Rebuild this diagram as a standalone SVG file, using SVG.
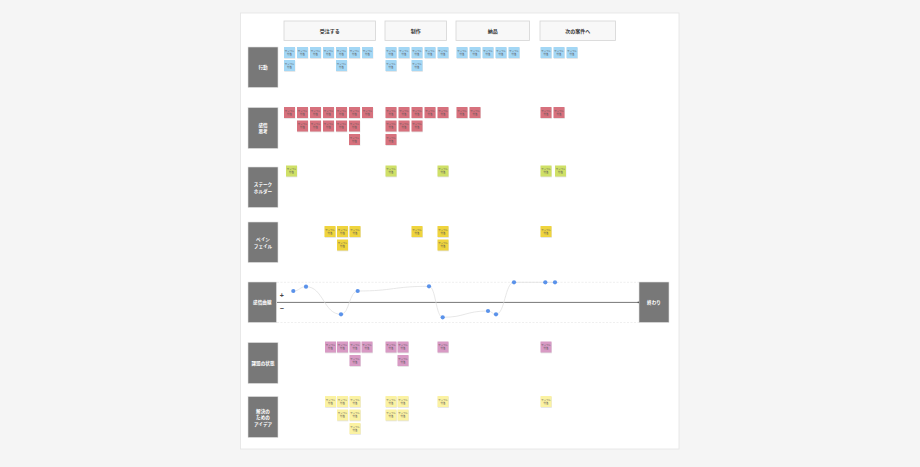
<svg xmlns="http://www.w3.org/2000/svg" width="920" height="467" viewBox="0 0 920 467">
<style>
.lane rect{fill:#787878;stroke:#e2e2e2;stroke-width:0.6}
.lane text,.end text{fill:#fff;font-family:"Noto Sans CJK JP","Noto Sans",sans-serif;font-size:4.6px;font-weight:bold;text-anchor:middle;dominant-baseline:central}
.hd rect{fill:#f8f8f8;stroke:#d4d4d4;stroke-width:0.8}
.hd text{fill:#333;font-family:"Noto Sans CJK JP","Noto Sans",sans-serif;font-size:5px;font-weight:bold;text-anchor:middle;dominant-baseline:central}
.st text{fill:#555;font-family:"Noto Sans CJK JP",sans-serif;font-size:2.4px;text-anchor:middle}
.b{fill:#a3d7f5}
.r{fill:#d7717d}
.l{fill:#cfe067}
.y{fill:#efd43d}
.p{fill:#d89ac4}
.ly{fill:#fbf2a2}
.dot{fill:#5a92ea}
.sign{fill:#444;font-family:"Liberation Sans",sans-serif;font-size:7px;font-weight:bold;text-anchor:middle;dominant-baseline:central}
</style>
<defs>
<g id="stk"><rect x="0.3" y="0.8" width="11" height="11" fill="#000" opacity="0.12"/><rect width="11" height="11"/></g>
</defs>
<rect width="920" height="467" fill="#f5f5f5"/>
<rect x="240.5" y="13" width="438.5" height="436" fill="#fff" stroke="#e4e4e4" stroke-width="0.8"/>

<g id="headers">
<g id="h1" class="hd"><rect x="284" y="21" width="91.5" height="19.5"/><text x="329.7" y="30.8">受注する</text></g>
<g id="h2" class="hd"><rect x="385" y="21" width="61.5" height="19.5"/><text x="415.7" y="30.8">制作</text></g>
<g id="h3" class="hd"><rect x="456" y="21" width="73.5" height="19.5"/><text x="492.7" y="30.8">納品</text></g>
<g id="h4" class="hd"><rect x="540" y="21" width="75.5" height="19.5"/><text x="577.7" y="30.8">次の案件へ</text></g>
</g>

<g id="lanes">
<g id="lane1" class="lane"><rect x="248" y="47" width="30" height="40.5"/><text x="263" y="67.2">行動</text></g>
<g id="lane2" class="lane"><rect x="248" y="107.5" width="30" height="41"/><text x="263" y="124.8">感情</text><text x="263" y="131.3">思考</text></g>
<g id="lane3" class="lane"><rect x="248" y="167" width="30" height="40.5"/><text x="263" y="184">ステーク</text><text x="263" y="190.5">ホルダー</text></g>
<g id="lane4" class="lane"><rect x="248" y="222" width="30" height="40.5"/><text x="263" y="239">ペイン</text><text x="263" y="245.5">フェイル</text></g>
<g id="lane5" class="lane"><rect x="248" y="282" width="28.5" height="40.5"/><text x="262.3" y="302.3">感情曲線</text></g>
<g id="lane6" class="lane"><rect x="248" y="342.5" width="30" height="41"/><text x="263" y="363">課題の状態</text></g>
<g id="lane7" class="lane"><rect x="248" y="396.5" width="30" height="41"/><text x="263" y="410.5">解決の</text><text x="263" y="417">ための</text><text x="263" y="423.5">アイデア</text></g>
<g id="end" class="end"><rect x="639" y="282" width="30" height="40.5" fill="#787878" stroke="#e2e2e2" stroke-width="0.6"/><text x="654" y="302.3">終わり</text></g>
</g>

<g id="chart">
<line x1="277" y1="282.3" x2="639" y2="282.3" stroke="#e4e4e4" stroke-width="0.6" stroke-dasharray="2 1.5"/>
<line x1="277" y1="322.5" x2="639" y2="322.5" stroke="#e4e4e4" stroke-width="0.6" stroke-dasharray="2 1.5"/>
<line x1="277" y1="302.4" x2="638.5" y2="302.4" stroke="#777" stroke-width="1"/>
<circle cx="638.3" cy="302.4" r="0.8" fill="#555"/>
<text class="sign" x="281.7" y="295.8">+</text>
<text class="sign" x="281.7" y="308.3">−</text>
</g>

<g id="connectors">
<path d="M293.3,291 C299.6,291 299.6,286.7 306,286.7 C323.5,286.7 323.5,314.3 341,314.3 C349.3,314.3 349.3,291 357.7,291 C393.3,291 393.3,286.3 429,286.3 C435.8,286.3 435.8,317.3 442.7,317.3 C465.3,317.3 465.3,311 488,311 C492,311 492,314.3 496,314.3 C505,314.3 505,282.3 514,282.3 L555,282.3" fill="none" stroke="#dcdcdc" stroke-width="0.7"/>
</g>

<g id="points">
<circle class="dot" cx="293.3" cy="291" r="2.1"/>
<circle class="dot" cx="306" cy="286.7" r="2.1"/>
<circle class="dot" cx="341" cy="314.3" r="2.1"/>
<circle class="dot" cx="357.7" cy="291" r="2.1"/>
<circle class="dot" cx="429" cy="286.3" r="2.1"/>
<circle class="dot" cx="442.7" cy="317.3" r="2.1"/>
<circle class="dot" cx="488" cy="311" r="2.1"/>
<circle class="dot" cx="496" cy="314.3" r="2.1"/>
<circle class="dot" cx="514" cy="282.3" r="2.1"/>
<circle class="dot" cx="545.3" cy="282.3" r="2.1"/>
<circle class="dot" cx="555" cy="282.3" r="2.1"/>
</g>

<g id="stickies-action">
<g id="a1" class="st b" transform="translate(284,47)"><use href="#stk"/><text x="5.5" y="4.6">サンプル</text><text x="5.5" y="7.8">付箋</text></g>
<g id="a2" class="st b" transform="translate(297,47)"><use href="#stk"/><text x="5.5" y="4.6">サンプル</text><text x="5.5" y="7.8">付箋</text></g>
<g id="a3" class="st b" transform="translate(310,47)"><use href="#stk"/><text x="5.5" y="4.6">サンプル</text><text x="5.5" y="7.8">付箋</text></g>
<g id="a4" class="st b" transform="translate(323,47)"><use href="#stk"/><text x="5.5" y="4.6">サンプル</text><text x="5.5" y="7.8">付箋</text></g>
<g id="a5" class="st b" transform="translate(336,47)"><use href="#stk"/><text x="5.5" y="4.6">サンプル</text><text x="5.5" y="7.8">付箋</text></g>
<g id="a6" class="st b" transform="translate(349,47)"><use href="#stk"/><text x="5.5" y="4.6">サンプル</text><text x="5.5" y="7.8">付箋</text></g>
<g id="a7" class="st b" transform="translate(362,47)"><use href="#stk"/><text x="5.5" y="4.6">サンプル</text><text x="5.5" y="7.8">付箋</text></g>
<g id="a8" class="st b" transform="translate(385.5,47)"><use href="#stk"/><text x="5.5" y="4.6">サンプル</text><text x="5.5" y="7.8">付箋</text></g>
<g id="a9" class="st b" transform="translate(398.5,47)"><use href="#stk"/><text x="5.5" y="4.6">サンプル</text><text x="5.5" y="7.8">付箋</text></g>
<g id="a10" class="st b" transform="translate(411.5,47)"><use href="#stk"/><text x="5.5" y="4.6">サンプル</text><text x="5.5" y="7.8">付箋</text></g>
<g id="a11" class="st b" transform="translate(424.5,47)"><use href="#stk"/><text x="5.5" y="4.6">サンプル</text><text x="5.5" y="7.8">付箋</text></g>
<g id="a12" class="st b" transform="translate(437.5,47)"><use href="#stk"/><text x="5.5" y="4.6">サンプル</text><text x="5.5" y="7.8">付箋</text></g>
<g id="a13" class="st b" transform="translate(456.5,47)"><use href="#stk"/><text x="5.5" y="4.6">サンプル</text><text x="5.5" y="7.8">付箋</text></g>
<g id="a14" class="st b" transform="translate(469.5,47)"><use href="#stk"/><text x="5.5" y="4.6">サンプル</text><text x="5.5" y="7.8">付箋</text></g>
<g id="a15" class="st b" transform="translate(482.5,47)"><use href="#stk"/><text x="5.5" y="4.6">サンプル</text><text x="5.5" y="7.8">付箋</text></g>
<g id="a16" class="st b" transform="translate(495.5,47)"><use href="#stk"/><text x="5.5" y="4.6">サンプル</text><text x="5.5" y="7.8">付箋</text></g>
<g id="a17" class="st b" transform="translate(508.5,47)"><use href="#stk"/><text x="5.5" y="4.6">サンプル</text><text x="5.5" y="7.8">付箋</text></g>
<g id="a18" class="st b" transform="translate(540.5,47)"><use href="#stk"/><text x="5.5" y="4.6">サンプル</text><text x="5.5" y="7.8">付箋</text></g>
<g id="a19" class="st b" transform="translate(553.5,47)"><use href="#stk"/><text x="5.5" y="4.6">サンプル</text><text x="5.5" y="7.8">付箋</text></g>
<g id="a20" class="st b" transform="translate(566.5,47)"><use href="#stk"/><text x="5.5" y="4.6">サンプル</text><text x="5.5" y="7.8">付箋</text></g>
<g id="a21" class="st b" transform="translate(284,60)"><use href="#stk"/><text x="5.5" y="4.6">サンプル</text><text x="5.5" y="7.8">付箋</text></g>
<g id="a22" class="st b" transform="translate(336,60)"><use href="#stk"/><text x="5.5" y="4.6">サンプル</text><text x="5.5" y="7.8">付箋</text></g>
<g id="a23" class="st b" transform="translate(385.5,60)"><use href="#stk"/><text x="5.5" y="4.6">サンプル</text><text x="5.5" y="7.8">付箋</text></g>
<g id="a24" class="st b" transform="translate(411.5,60)"><use href="#stk"/><text x="5.5" y="4.6">サンプル</text><text x="5.5" y="7.8">付箋</text></g>
</g>

<g id="stickies-emotion">
<g id="e1" class="st r" transform="translate(284,107)"><use href="#stk"/><text x="5.5" y="4.6">サンプル</text><text x="5.5" y="7.8">付箋</text></g>
<g id="e2" class="st r" transform="translate(297,107)"><use href="#stk"/><text x="5.5" y="4.6">サンプル</text><text x="5.5" y="7.8">付箋</text></g>
<g id="e3" class="st r" transform="translate(310,107)"><use href="#stk"/><text x="5.5" y="4.6">サンプル</text><text x="5.5" y="7.8">付箋</text></g>
<g id="e4" class="st r" transform="translate(323,107)"><use href="#stk"/><text x="5.5" y="4.6">サンプル</text><text x="5.5" y="7.8">付箋</text></g>
<g id="e5" class="st r" transform="translate(336,107)"><use href="#stk"/><text x="5.5" y="4.6">サンプル</text><text x="5.5" y="7.8">付箋</text></g>
<g id="e6" class="st r" transform="translate(349,107)"><use href="#stk"/><text x="5.5" y="4.6">サンプル</text><text x="5.5" y="7.8">付箋</text></g>
<g id="e7" class="st r" transform="translate(362,107)"><use href="#stk"/><text x="5.5" y="4.6">サンプル</text><text x="5.5" y="7.8">付箋</text></g>
<g id="e8" class="st r" transform="translate(385.5,107)"><use href="#stk"/><text x="5.5" y="4.6">サンプル</text><text x="5.5" y="7.8">付箋</text></g>
<g id="e9" class="st r" transform="translate(398.5,107)"><use href="#stk"/><text x="5.5" y="4.6">サンプル</text><text x="5.5" y="7.8">付箋</text></g>
<g id="e10" class="st r" transform="translate(411.5,107)"><use href="#stk"/><text x="5.5" y="4.6">サンプル</text><text x="5.5" y="7.8">付箋</text></g>
<g id="e11" class="st r" transform="translate(424.5,107)"><use href="#stk"/><text x="5.5" y="4.6">サンプル</text><text x="5.5" y="7.8">付箋</text></g>
<g id="e12" class="st r" transform="translate(437.5,107)"><use href="#stk"/><text x="5.5" y="4.6">サンプル</text><text x="5.5" y="7.8">付箋</text></g>
<g id="e13" class="st r" transform="translate(456.5,107)"><use href="#stk"/><text x="5.5" y="4.6">サンプル</text><text x="5.5" y="7.8">付箋</text></g>
<g id="e14" class="st r" transform="translate(469.5,107)"><use href="#stk"/><text x="5.5" y="4.6">サンプル</text><text x="5.5" y="7.8">付箋</text></g>
<g id="e15" class="st r" transform="translate(540.5,107)"><use href="#stk"/><text x="5.5" y="4.6">サンプル</text><text x="5.5" y="7.8">付箋</text></g>
<g id="e16" class="st r" transform="translate(553.5,107)"><use href="#stk"/><text x="5.5" y="4.6">サンプル</text><text x="5.5" y="7.8">付箋</text></g>
<g id="e17" class="st r" transform="translate(297,120.5)"><use href="#stk"/><text x="5.5" y="4.6">サンプル</text><text x="5.5" y="7.8">付箋</text></g>
<g id="e18" class="st r" transform="translate(310,120.5)"><use href="#stk"/><text x="5.5" y="4.6">サンプル</text><text x="5.5" y="7.8">付箋</text></g>
<g id="e19" class="st r" transform="translate(323,120.5)"><use href="#stk"/><text x="5.5" y="4.6">サンプル</text><text x="5.5" y="7.8">付箋</text></g>
<g id="e20" class="st r" transform="translate(336,120.5)"><use href="#stk"/><text x="5.5" y="4.6">サンプル</text><text x="5.5" y="7.8">付箋</text></g>
<g id="e21" class="st r" transform="translate(349,120.5)"><use href="#stk"/><text x="5.5" y="4.6">サンプル</text><text x="5.5" y="7.8">付箋</text></g>
<g id="e22" class="st r" transform="translate(385.5,120.5)"><use href="#stk"/><text x="5.5" y="4.6">サンプル</text><text x="5.5" y="7.8">付箋</text></g>
<g id="e23" class="st r" transform="translate(398.5,120.5)"><use href="#stk"/><text x="5.5" y="4.6">サンプル</text><text x="5.5" y="7.8">付箋</text></g>
<g id="e24" class="st r" transform="translate(411.5,120.5)"><use href="#stk"/><text x="5.5" y="4.6">サンプル</text><text x="5.5" y="7.8">付箋</text></g>
<g id="e25" class="st r" transform="translate(349,134)"><use href="#stk"/><text x="5.5" y="4.6">サンプル</text><text x="5.5" y="7.8">付箋</text></g>
<g id="e26" class="st r" transform="translate(385.5,134)"><use href="#stk"/><text x="5.5" y="4.6">サンプル</text><text x="5.5" y="7.8">付箋</text></g>
</g>

<g id="stickies-stake">
<g id="s1" class="st l" transform="translate(286,165.5)"><use href="#stk"/><text x="5.5" y="4.6">サンプル</text><text x="5.5" y="7.8">付箋</text></g>
<g id="s2" class="st l" transform="translate(385.5,165.5)"><use href="#stk"/><text x="5.5" y="4.6">サンプル</text><text x="5.5" y="7.8">付箋</text></g>
<g id="s3" class="st l" transform="translate(437.5,165.5)"><use href="#stk"/><text x="5.5" y="4.6">サンプル</text><text x="5.5" y="7.8">付箋</text></g>
<g id="s4" class="st l" transform="translate(540.5,165.5)"><use href="#stk"/><text x="5.5" y="4.6">サンプル</text><text x="5.5" y="7.8">付箋</text></g>
<g id="s5" class="st l" transform="translate(555,165.5)"><use href="#stk"/><text x="5.5" y="4.6">サンプル</text><text x="5.5" y="7.8">付箋</text></g>
</g>

<g id="stickies-pain">
<g id="p1" class="st y" transform="translate(324.5,226)"><use href="#stk"/><text x="5.5" y="4.6">サンプル</text><text x="5.5" y="7.8">付箋</text></g>
<g id="p2" class="st y" transform="translate(337,226)"><use href="#stk"/><text x="5.5" y="4.6">サンプル</text><text x="5.5" y="7.8">付箋</text></g>
<g id="p3" class="st y" transform="translate(349.5,226)"><use href="#stk"/><text x="5.5" y="4.6">サンプル</text><text x="5.5" y="7.8">付箋</text></g>
<g id="p4" class="st y" transform="translate(411.5,226)"><use href="#stk"/><text x="5.5" y="4.6">サンプル</text><text x="5.5" y="7.8">付箋</text></g>
<g id="p5" class="st y" transform="translate(437.5,226)"><use href="#stk"/><text x="5.5" y="4.6">サンプル</text><text x="5.5" y="7.8">付箋</text></g>
<g id="p6" class="st y" transform="translate(540.5,226)"><use href="#stk"/><text x="5.5" y="4.6">サンプル</text><text x="5.5" y="7.8">付箋</text></g>
<g id="p7" class="st y" transform="translate(337,239.5)"><use href="#stk"/><text x="5.5" y="4.6">サンプル</text><text x="5.5" y="7.8">付箋</text></g>
<g id="p8" class="st y" transform="translate(437.5,239.5)"><use href="#stk"/><text x="5.5" y="4.6">サンプル</text><text x="5.5" y="7.8">付箋</text></g>
</g>

<g id="stickies-issue">
<g id="i1" class="st p" transform="translate(325,341.5)"><use href="#stk"/><text x="5.5" y="4.6">サンプル</text><text x="5.5" y="7.8">付箋</text></g>
<g id="i2" class="st p" transform="translate(337,341.5)"><use href="#stk"/><text x="5.5" y="4.6">サンプル</text><text x="5.5" y="7.8">付箋</text></g>
<g id="i3" class="st p" transform="translate(349.5,341.5)"><use href="#stk"/><text x="5.5" y="4.6">サンプル</text><text x="5.5" y="7.8">付箋</text></g>
<g id="i4" class="st p" transform="translate(361.5,341.5)"><use href="#stk"/><text x="5.5" y="4.6">サンプル</text><text x="5.5" y="7.8">付箋</text></g>
<g id="i5" class="st p" transform="translate(385.5,341.5)"><use href="#stk"/><text x="5.5" y="4.6">サンプル</text><text x="5.5" y="7.8">付箋</text></g>
<g id="i6" class="st p" transform="translate(397.5,341.5)"><use href="#stk"/><text x="5.5" y="4.6">サンプル</text><text x="5.5" y="7.8">付箋</text></g>
<g id="i7" class="st p" transform="translate(437.5,341.5)"><use href="#stk"/><text x="5.5" y="4.6">サンプル</text><text x="5.5" y="7.8">付箋</text></g>
<g id="i8" class="st p" transform="translate(540.5,341.5)"><use href="#stk"/><text x="5.5" y="4.6">サンプル</text><text x="5.5" y="7.8">付箋</text></g>
<g id="i9" class="st p" transform="translate(349.5,355)"><use href="#stk"/><text x="5.5" y="4.6">サンプル</text><text x="5.5" y="7.8">付箋</text></g>
<g id="i10" class="st p" transform="translate(397.5,355)"><use href="#stk"/><text x="5.5" y="4.6">サンプル</text><text x="5.5" y="7.8">付箋</text></g>
</g>

<g id="stickies-idea">
<g id="d1" class="st ly" transform="translate(325,396)"><use href="#stk"/><text x="5.5" y="4.6">サンプル</text><text x="5.5" y="7.8">付箋</text></g>
<g id="d2" class="st ly" transform="translate(337,396)"><use href="#stk"/><text x="5.5" y="4.6">サンプル</text><text x="5.5" y="7.8">付箋</text></g>
<g id="d3" class="st ly" transform="translate(349.5,396)"><use href="#stk"/><text x="5.5" y="4.6">サンプル</text><text x="5.5" y="7.8">付箋</text></g>
<g id="d4" class="st ly" transform="translate(385.5,396)"><use href="#stk"/><text x="5.5" y="4.6">サンプル</text><text x="5.5" y="7.8">付箋</text></g>
<g id="d5" class="st ly" transform="translate(397.5,396)"><use href="#stk"/><text x="5.5" y="4.6">サンプル</text><text x="5.5" y="7.8">付箋</text></g>
<g id="d6" class="st ly" transform="translate(437.5,396)"><use href="#stk"/><text x="5.5" y="4.6">サンプル</text><text x="5.5" y="7.8">付箋</text></g>
<g id="d7" class="st ly" transform="translate(540.5,396)"><use href="#stk"/><text x="5.5" y="4.6">サンプル</text><text x="5.5" y="7.8">付箋</text></g>
<g id="d8" class="st ly" transform="translate(337,409.5)"><use href="#stk"/><text x="5.5" y="4.6">サンプル</text><text x="5.5" y="7.8">付箋</text></g>
<g id="d9" class="st ly" transform="translate(349.5,409.5)"><use href="#stk"/><text x="5.5" y="4.6">サンプル</text><text x="5.5" y="7.8">付箋</text></g>
<g id="d10" class="st ly" transform="translate(385.5,409.5)"><use href="#stk"/><text x="5.5" y="4.6">サンプル</text><text x="5.5" y="7.8">付箋</text></g>
<g id="d11" class="st ly" transform="translate(397.5,409.5)"><use href="#stk"/><text x="5.5" y="4.6">サンプル</text><text x="5.5" y="7.8">付箋</text></g>
<g id="d12" class="st ly" transform="translate(349.5,423)"><use href="#stk"/><text x="5.5" y="4.6">サンプル</text><text x="5.5" y="7.8">付箋</text></g>
</g>
</svg>
